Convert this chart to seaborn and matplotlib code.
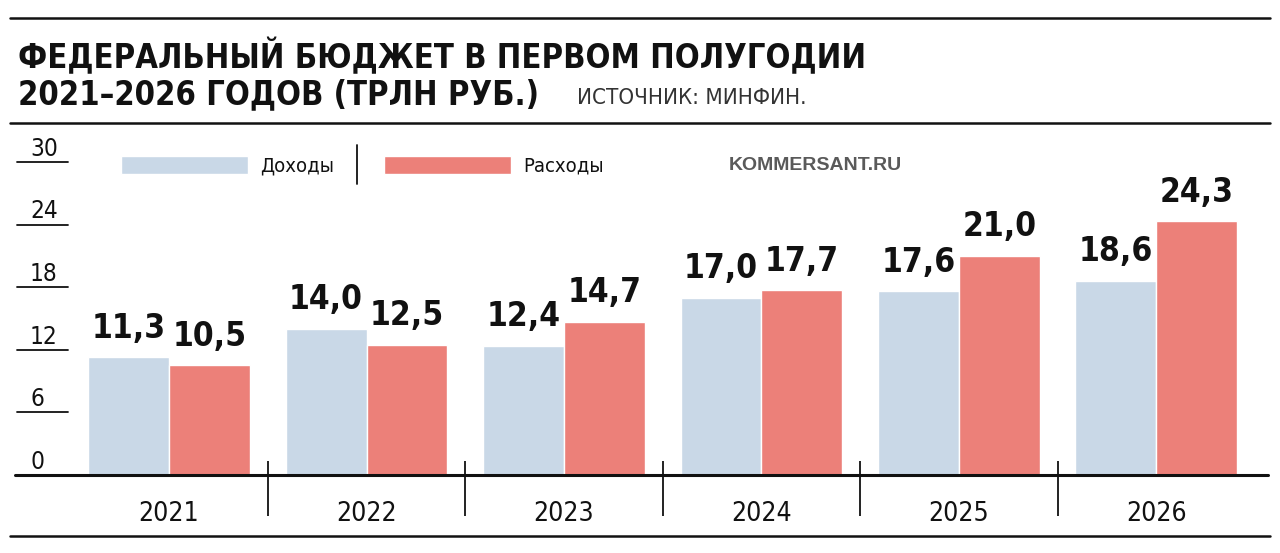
import pandas as pd
import seaborn as sns
import matplotlib.pyplot as plt
from matplotlib.lines import Line2D
from matplotlib.transforms import blended_transform_factory

# data
years = ['2021', '2022', '2023', '2024', '2025', '2026']
income = [11.3, 14.0, 12.4, 17.0, 17.6, 18.6]
spending = [10.5, 12.5, 14.7, 17.7, 21.0, 24.3]
series = ['Доходы', 'Расходы']
y_ticks = [0, 6, 12, 18, 24, 30]

df = pd.DataFrame({
    'year': years * 2,
    'value': income + spending,
    'kind': [series[0]] * len(years) + [series[1]] * len(years),
})

sns.set_theme(style='white')
plt.rcParams['font.family'] = ['DejaVu Sans']
plt.rcParams['font.stretch'] = 'condensed'

blue = '#c9d8e7'
red = '#ec8079'
ink = '#111111'

fig = plt.figure(figsize=(12.8, 5.53), dpi=100)
W, H = 1280, 553

def fx(px):
    return px / W

def fy(py):
    return 1 - py / H

# axes: baseline at y=475 px, value 30 at y=162 px
ax = fig.add_axes([fx(15), fy(475), fx(1268 - 15), (475 - 162) / H])

sns.barplot(data=df, x='year', y='value', hue='kind', palette=[blue, red],
            width=0.82, gap=0, saturation=1, ax=ax, legend=True)

ax.set_xlim(-0.78, 5.565)
ax.set_ylim(0, 30)
sns.despine(ax=ax, left=True, bottom=True, top=True, right=True)
ax.set_xlabel('')
ax.set_ylabel('')
ax.set_yticks([])
ax.tick_params(axis='x', length=0, pad=19, labelsize=19, labelcolor=ink)

# value labels
for cont in ax.containers:
    labels = [f'{b.get_height():.1f}'.replace('.', ',') for b in cont]
    ax.bar_label(cont, labels=labels, padding=9, fontsize=24,
                 fontweight='bold', color=ink)

# baseline and group separators
ax.axhline(0, color=ink, lw=2.2, clip_on=False)
ax.vlines([i + 0.5 for i in range(len(years) - 1)], -3.95, 1.35,
          color=ink, lw=1.3, clip_on=False)

# y ticks drawn as short rules with labels above
trans = blended_transform_factory(ax.transAxes, ax.transData)
for t in y_ticks:
    if t > 0:
        ax.plot([2 / 1253, 53 / 1253], [t, t], transform=trans,
                color=ink, lw=1.3, clip_on=False)
    ax.text(15 / 1253, t + 0.6, str(t), transform=trans,
            fontsize=17.5, ha='left', va='baseline', color=ink)

# legend
handles, _ = ax.get_legend_handles_labels()
ax.legend(handles, series, loc='center left', bbox_to_anchor=(fx(113), fy(166)),
          bbox_transform=fig.transFigure, ncol=2, frameon=False, fontsize=14.5,
          handlelength=6.3, handleheight=1.0, handletextpad=0.6,
          columnspacing=2.5, borderaxespad=0, labelcolor=ink)
fig.add_artist(Line2D([fx(357), fx(357)], [fy(145), fy(184)], color=ink, lw=1.3))
fig.text(fx(729), fy(166), 'KOMMERSANT.RU', fontsize=14, fontweight='bold',
         color='#5a5a5a', va='center', ha='left',
         family=['Liberation Sans', 'DejaVu Sans'], fontstretch='normal')

# title block and rules
for yy in (18, 123, 536):
    fig.add_artist(Line2D([fx(10), fx(1270)], [fy(yy), fy(yy)], color=ink, lw=1.8))

fig.text(fx(18), fy(68), 'ФЕДЕРАЛЬНЫЙ БЮДЖЕТ В ПЕРВОМ ПОЛУГОДИИ', fontsize=23.5,
         fontweight='bold', color=ink, va='baseline', ha='left')
fig.text(fx(18), fy(104), '2021–2026 ГОДОВ (ТРЛН РУБ.)', fontsize=23.5,
         fontweight='bold', color=ink, va='baseline', ha='left')
fig.text(fx(577), fy(104), 'ИСТОЧНИК: МИНФИН.', fontsize=16,
         color='#333333', va='baseline', ha='left')

fig.savefig('out.png', dpi=100)
